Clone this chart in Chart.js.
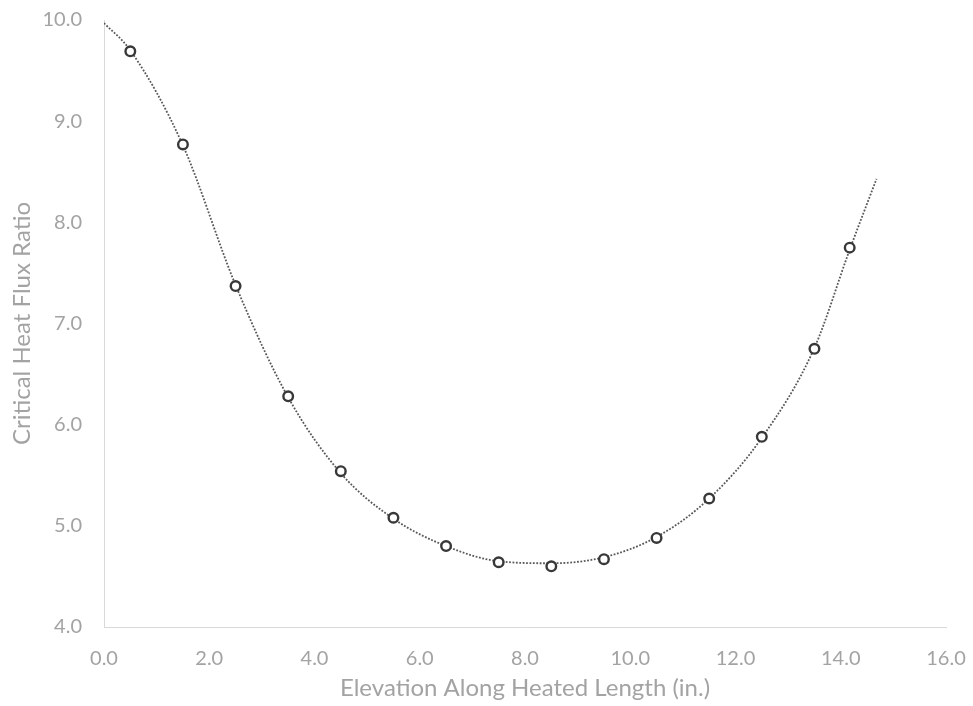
<!DOCTYPE html>
<html>
<head>
<meta charset="utf-8">
<script src="https://cdn.jsdelivr.net/npm/chart.js@4"></script>
<style>
  html, body { margin: 0; padding: 0; background: #ffffff; }
  #wrap { width: 973px; height: 706px; }
</style>
</head>
<body>
<div id="wrap"><canvas id="chart" width="973" height="706"></canvas></div>
<script>
// Measured critical heat flux ratio along the heated length
const elevation = [0.5, 1.5, 2.5, 3.5, 4.5, 5.5, 6.5, 7.5, 8.5, 9.5, 10.5, 11.5, 12.5, 13.5, 14.17];
const chfr      = [9.69, 8.77, 7.37, 6.28, 5.54, 5.08, 4.80, 4.64, 4.60, 4.67, 4.88, 5.27, 5.88, 6.75, 7.75];

// Fitted trend curve (dotted)
const trendElevation = [0, 0.5, 1.5, 2.5, 3.5, 4.5, 5.5, 6.5, 7.5, 8.5, 9.5, 10.5, 11.5, 12.5, 13.5, 14.17, 14.68];
const trendChfr      = [9.97, 9.70, 8.76, 7.38, 6.27, 5.52, 5.07, 4.80, 4.65, 4.63, 4.69, 4.89, 5.27, 5.87, 6.76, 7.73, 8.43];

// Axis tick values
const xTicks = [0, 2, 4, 6, 8, 10, 12, 14, 16];
const yTicks = [4, 5, 6, 7, 8, 9, 10];

const textGray = '#a3a3a3';
const axisGray = '#d9d9d9';
const fontFamily = 'Lato, "Open Sans", sans-serif';

const pointsData = elevation.map((x, i) => ({ x: x, y: chfr[i] }));
const trendData = trendElevation.map((x, i) => ({ x: x, y: trendChfr[i] }));

new Chart(document.getElementById('chart'), {
  type: 'scatter',
  data: {
    datasets: [
      {
        label: 'Trend',
        data: trendData,
        showLine: true,
        borderColor: '#585858',
        borderWidth: 1.8,
        borderDash: [1.8, 1.6],
        cubicInterpolationMode: 'monotone',
        pointRadius: 0,
        order: 2
      },
      {
        label: 'CHFR',
        data: pointsData,
        showLine: false,
        pointStyle: 'circle',
        pointRadius: 4.8,
        pointBorderWidth: 2.4,
        pointBorderColor: '#383838',
        pointBackgroundColor: '#ffffff',
        order: 1
      }
    ]
  },
  options: {
    responsive: false,
    animation: false,
    layout: { padding: { top: 20, right: 27, left: 0, bottom: 0 } },
    plugins: {
      legend: { display: false },
      tooltip: { enabled: false }
    },
    scales: {
      x: {
        type: 'linear',
        min: 0,
        max: 16,
        afterBuildTicks: (scale) => { scale.ticks = xTicks.map(v => ({ value: v })); },
        afterFit: (scale) => {
          scale.height = 79;
          scale.paddingLeft = 0;
          scale.paddingRight = 0;
        },
        grid: { display: true, drawOnChartArea: false, drawTicks: false },
        border: { display: true, color: axisGray, width: 1 },
        ticks: {
          color: textGray,
          padding: 20,
          font: { family: fontFamily, size: 20 },
          callback: (v) => Number(v).toFixed(1),
          maxRotation: 0
        },
        title: {
          display: true,
          text: 'Elevation Along Heated Length (in.)',
          color: textGray,
          font: { family: fontFamily, size: 24 },
          padding: { top: 0, bottom: 3 }
        }
      },
      y: {
        type: 'linear',
        min: 4,
        max: 10,
        afterBuildTicks: (scale) => { scale.ticks = yTicks.map(v => ({ value: v })); },
        afterFit: (scale) => {
          scale.width = 104;
          scale.paddingTop = 0;
          scale.paddingBottom = 0;
        },
        grid: { display: true, drawOnChartArea: false, drawTicks: false },
        border: { display: true, color: axisGray, width: 1 },
        ticks: {
          color: textGray,
          padding: 22,
          font: { family: fontFamily, size: 20 },
          callback: (v) => Number(v).toFixed(1)
        },
        title: {
          display: true,
          text: 'Critical Heat Flux Ratio',
          color: textGray,
          font: { family: fontFamily, size: 24 },
          padding: { top: 8, bottom: 0 }
        }
      }
    }
  }
});
</script>
</body>
</html>
